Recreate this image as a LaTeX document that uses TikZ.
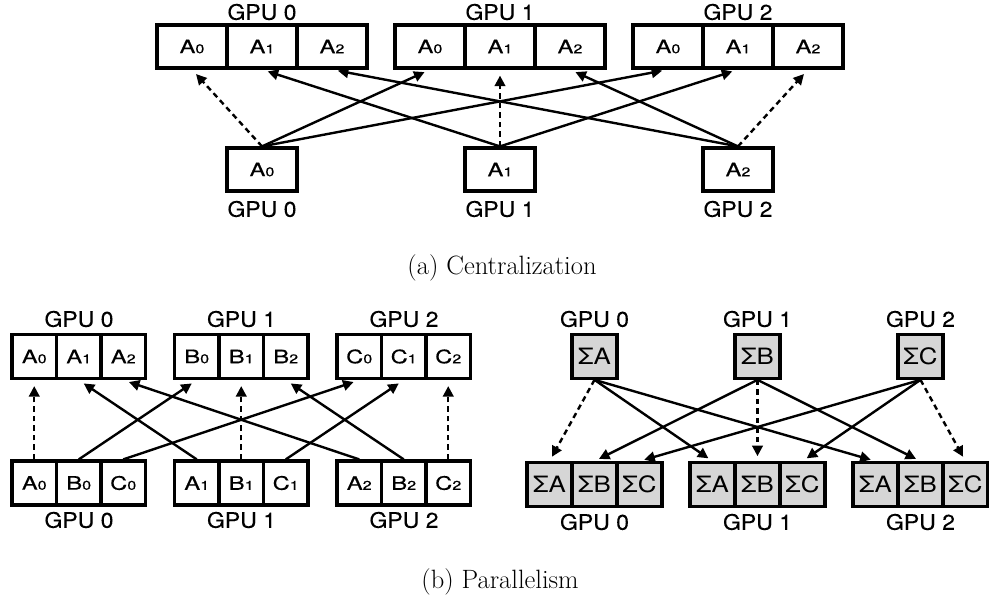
\documentclass[tikz,border=0pt]{standalone}
\usepackage{fontspec}
\newfontfamily\labelfont[FakeStretch=1.08,FakeBold=0.15]{TeX Gyre Heros}
\newfontfamily\cellfont[FakeStretch=1.28,FakeBold=0.4]{TeX Gyre Heros}
\newfontfamily\sigmafont[FakeStretch=1.15]{TeX Gyre Heros}
\usetikzlibrary{arrows.meta}
% small digit set on the baseline after a letter
\newcommand\sbx[1]{{\fontsize{12.6}{12.6}\selectfont #1}}
\begin{document}
\begin{tikzpicture}[x=1pt,y=-1pt,
  lbl/.style={inner sep=0pt, font=\labelfont\fontsize{21.3}{21.3}\selectfont},
  box/.style={draw, line width=3.2pt, inner sep=0pt, font=\cellfont\fontsize{18.5}{18.5}\selectfont},
  acell/.style={box, minimum width=70pt, minimum height=43pt},
  bcell/.style={box, minimum width=44.5pt, minimum height=44pt},
  scell/.style={box, fill=black!16, minimum width=45pt, minimum height=43.5pt, font=\sigmafont\fontsize{22.5}{22.5}\selectfont},
  link/.style={line width=2.4pt, -{Triangle[length=10.5pt,width=10.5pt]}},
  dlink/.style={link, dash pattern=on 5.5pt off 4pt},
  capt/.style={inner sep=0pt, font=\fontsize{26.5}{26.5}\selectfont}]
\useasboundingbox (0,0) rectangle (989,603);

% ---------- (a) centralization ----------
\foreach \g in {0,1,2}{
  \node[lbl] at (262+238*\g, 12) {GPU \g};
  \foreach \c in {0,1,2}
    \node[acell] (ta\g\c) at (192+238*\g+70*\c, 46.5) {A\sbx{\c}};
  \node[acell] (ba\g) at (262+238*\g, 169.5) {A\sbx{\g}};
  \node[lbl] at (262+238*\g, 209) {GPU \g};
}
\foreach \i in {0,1,2}
  \foreach \j in {0,1,2}{
    \ifnum\i=\j
      \draw[dlink, shorten >=6pt] (ba\i.north) -- (ta\j\i.south);
    \else
      \draw[link, shorten >=6pt] (ba\i.north) -- (ta\j\i.south);
    \fi
  }
\node[capt] at (502, 268) {(a) Centralization};

% ---------- (b) parallelism, left: scatter ----------
\foreach \g/\L in {0/A,1/B,2/C}{
  \node[lbl] at (79+162.5*\g, 319) {GPU \g};
  \foreach \c in {0,1,2}
    \node[bcell] (tb\g\c) at (34.25+162.5*\g+44.5*\c, 356.5) {\L\sbx{\c}};
  \foreach \c/\M in {0/A,1/B,2/C}
    \node[bcell] (bb\g\c) at (34.25+162.5*\g+44.5*\c, 483) {\M\sbx{\g}};
  \node[lbl] at (79+162.5*\g, 520) {GPU \g};
}
\foreach \g in {0,1,2}
  \foreach \c in {0,1,2}{
    \ifnum\g=\c
      \draw[dlink, shorten >=6pt] (bb\g\c.north) -- (tb\c\g.south);
    \else
      \draw[link, shorten >=6pt] (bb\g\c.north) -- (tb\c\g.south);
    \fi
  }

% ---------- (b) parallelism, right: gather ----------
\foreach \g/\L in {0/A,1/B,2/C}{
  \node[lbl] at (594.5+163*\g, 319) {GPU \g};
  \node[scell] (ts\g) at (594.5+163*\g, 356.5) {Σ\L};
  \foreach \c/\M in {0/A,1/B,2/C}
    \node[scell] (bs\g\c) at (549.5+163*\g+45*\c, 484.5) {Σ\M};
  \node[lbl] at (594.5+163*\g, 522) {GPU \g};
}
\foreach \g in {0,1,2}
  \foreach \j in {0,1,2}{
    \ifnum\g=\j
      \draw[dlink, shorten >=5pt] (ts\g.south) -- (bs\j\g.north);
    \else
      \draw[link, shorten >=5pt] (ts\g.south) -- (bs\j\g.north);
    \fi
  }
\node[capt] at (500, 582) {(b) Parallelism};
\end{tikzpicture}
\end{document}
